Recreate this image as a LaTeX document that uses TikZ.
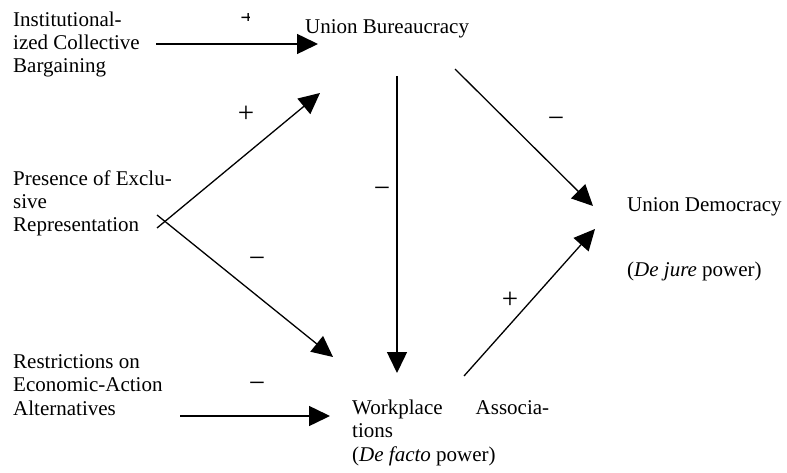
\documentclass[tikz,border=0pt]{standalone}
\usepackage{fontspec}
\setmainfont{Liberation Serif}
\usetikzlibrary{arrows.meta}
\begin{document}
\begin{tikzpicture}[x=1pt,y=-1pt,
  lbl/.style={font=\fontsize{21}{23.3}\selectfont, inner sep=0pt, align=left},
  sgn/.style={font=\fontsize{29}{30}\selectfont, inner sep=0pt, anchor=base},
  arr/.style={line width=1.5pt, -{Triangle[length=21pt,width=20pt]}},
  thinarr/.style={line width=1.3pt, -{Triangle[length=21pt,width=20pt]}}]
\useasboundingbox (0,0) rectangle (787,473);

% text blocks
\node[lbl, anchor=north west] (icb) at (13,9.7) {\strut Institutional-\\ized Collective\\Bargaining};
\node[lbl, anchor=base west] (ub) at (305,34) {Union Bureaucracy};
\node[lbl, anchor=north west] (per) at (13,168.7) {\strut Presence of Exclu-\\sive\\Representation};
\node[lbl, anchor=base west] (ud) at (627,212) {Union Democracy};
\node[lbl, anchor=base west] (udp) at (627,276) {(\textit{De jure} power)};
\node[lbl, anchor=north west] (rea) at (13,352) {\strut Restrictions on\\Economic-Action\\Alternatives};
\node[lbl, anchor=north west] (wa) at (352,398) {\strut\hbox to 197pt{Workplace\hfill Associa-}\\tions\\(\textit{De facto} power)};

% connector end points
\coordinate (icbo) at (156,44);  \coordinate (ubi1) at (318,44);
\coordinate (pero1) at (157,228); \coordinate (ubi2) at (320,93);
\coordinate (pero2) at (157,215); \coordinate (wai1) at (333,357);
\coordinate (ubo1) at (397,76);  \coordinate (wai2) at (397,373);
\coordinate (ubo2) at (455,69);  \coordinate (udi1) at (593,206);
\coordinate (wao) at (464,376);  \coordinate (udi2) at (595,229);
\coordinate (reao) at (180,416); \coordinate (wai3) at (330,416);

% connectors
\draw[arr] (icbo) -- (ubi1);
\draw[thinarr] (pero1) -- (ubi2);
\draw[thinarr] (pero2) -- (wai1);
\draw[arr] (ubo1) -- (wai2);
\draw[thinarr] (ubo2) -- (udi1);
\draw[thinarr] (wao) -- (udi2);
\draw[arr] (reao) -- (wai3);

% signs
\begin{scope}
\clip (230,13.3) rectangle (249.4,20.7);
\node[sgn] (s0) at (248.3,27.5) {+};
\end{scope}
\node[sgn] (s1) at (246,122.2) {+};
\node[sgn] (s2) at (257,267.2) {\char"2212};
\node[sgn] (s3) at (382,197.2) {\char"2212};
\node[sgn] (s4) at (556,127.2) {\char"2212};
\node[sgn] (s5) at (510,308.2) {+};
\node[sgn] (s6) at (257,392.2) {\char"2212};
\end{tikzpicture}
\end{document}
